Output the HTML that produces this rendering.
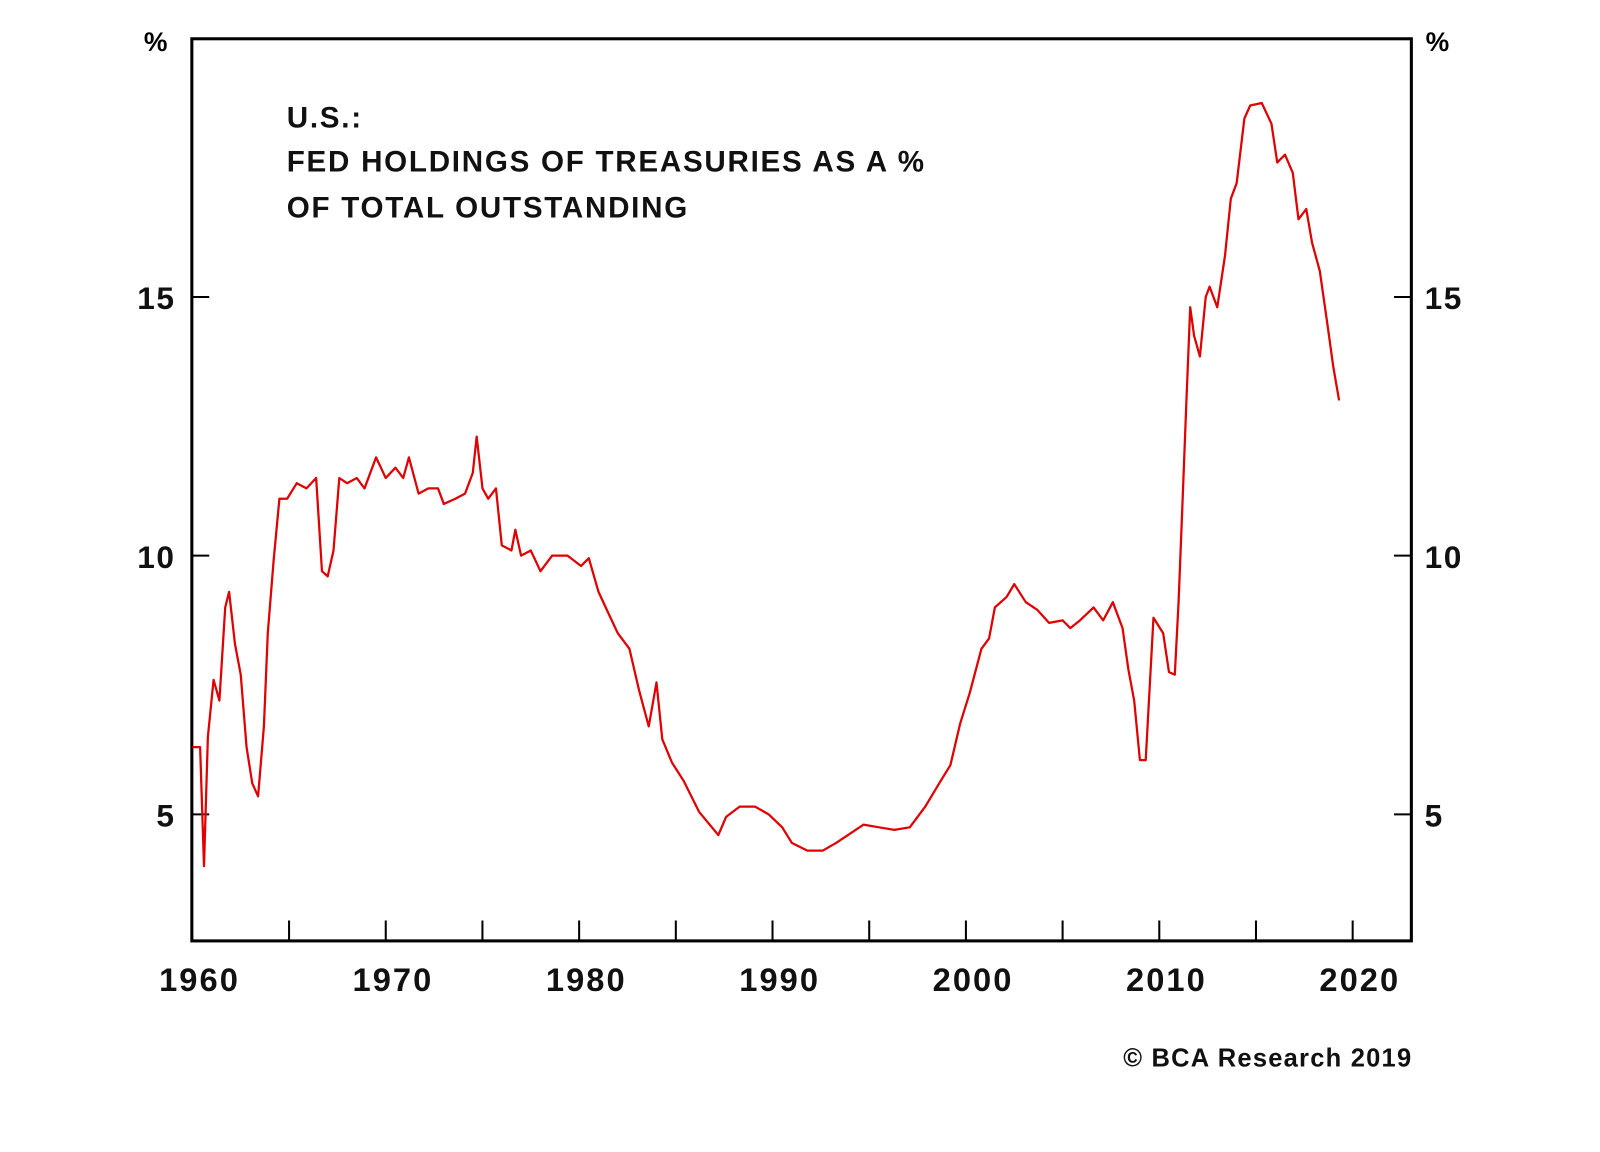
<!DOCTYPE html>
<html><head><meta charset="utf-8"><style>
html,body{margin:0;padding:0;background:#fff;}
svg{display:block;font-family:"Liberation Sans",Arial,sans-serif;font-weight:bold;}
</style></head><body>
<svg id="chart" width="1600" height="1152" viewBox="0 0 1600 1152">
<g transform="scale(1.0205)">
<rect x="188" y="38" width="1195" height="884" fill="none" stroke="#000" stroke-width="3"/>
<g id="axes"></g>
<path id="line" fill="none" stroke="#e00000" stroke-width="2.2" stroke-linejoin="round"/>
<text x="141" y="50" font-size="26">%</text>
<text x="1397" y="50" font-size="26">%</text>
<g font-size="29" fill="#111" letter-spacing="1.7">
<text x="281" y="125">U.S.:</text>
<text x="281" y="168">FED HOLDINGS OF TREASURIES AS A %</text>
<text x="281" y="213">OF TOTAL OUTSTANDING</text>
</g>
<text x="1384" y="1045" font-size="25" letter-spacing="1.2" text-anchor="end" fill="#111">© BCA Research 2019</text>
</g>
</svg>
<script>
const years=[1960.0,1960.4,1960.6,1960.8,1961.1,1961.4,1961.7,1961.9,1962.2,1962.5,1962.8,1963.1,1963.4,1963.7,1963.9,1964.2,1964.5,1964.9,1965.4,1965.9,1966.4,1966.7,1967.0,1967.3,1967.6,1968.0,1968.5,1968.9,1969.5,1970.0,1970.5,1970.9,1971.2,1971.7,1972.2,1972.7,1973.0,1973.6,1974.1,1974.5,1974.7,1975.0,1975.3,1975.7,1976.0,1976.5,1976.7,1977.0,1977.5,1978.0,1978.6,1979.4,1980.1,1980.5,1981.0,1981.5,1982.0,1982.6,1983.1,1983.6,1984.0,1984.3,1984.8,1985.4,1986.2,1987.2,1987.6,1988.3,1989.1,1989.8,1990.5,1991.0,1991.8,1992.6,1993.3,1993.9,1994.7,1995.5,1996.3,1997.1,1997.9,1998.7,1999.2,1999.7,2000.2,2000.8,2001.2,2001.5,2002.1,2002.5,2003.1,2003.7,2004.3,2005.0,2005.4,2005.9,2006.6,2007.1,2007.6,2008.1,2008.4,2008.7,2009.0,2009.3,2009.7,2010.2,2010.5,2010.8,2011.0,2011.2,2011.4,2011.6,2011.8,2012.1,2012.4,2012.6,2013.0,2013.4,2013.7,2014.0,2014.4,2014.7,2015.3,2015.8,2016.1,2016.5,2016.9,2017.2,2017.6,2017.9,2018.3,2018.7,2019.0,2019.3];
const values=[6.3,6.3,4.0,6.5,7.6,7.2,9.0,9.3,8.3,7.7,6.3,5.6,5.35,6.7,8.5,9.9,11.1,11.1,11.4,11.3,11.5,9.7,9.6,10.1,11.5,11.4,11.5,11.3,11.9,11.5,11.7,11.5,11.9,11.2,11.3,11.3,11.0,11.1,11.2,11.6,12.3,11.3,11.1,11.3,10.2,10.1,10.5,10.0,10.1,9.7,10.0,10.0,9.8,9.95,9.3,8.9,8.5,8.2,7.4,6.7,7.55,6.45,6.0,5.65,5.05,4.6,4.95,5.15,5.15,5.0,4.75,4.45,4.3,4.3,4.45,4.6,4.8,4.75,4.7,4.75,5.15,5.65,5.95,6.75,7.35,8.2,8.4,9.0,9.2,9.45,9.1,8.95,8.7,8.75,8.6,8.75,9.0,8.75,9.1,8.6,7.8,7.2,6.05,6.05,8.8,8.5,7.75,7.7,9.1,11.0,12.95,14.8,14.25,13.85,15.0,15.2,14.8,15.8,16.9,17.2,18.45,18.7,18.75,18.35,17.6,17.75,17.4,16.5,16.7,16.05,15.5,14.45,13.65,13.0];
const yTicks=[5,10,15];
const xLabels=[1960,1970,1980,1990,2000,2010,2020];
const xTicks=[1965,1970,1975,1980,1985,1990,1995,2000,2005,2010,2015,2020];
const X=y=>188.5+(y-1960)*18.95;
const Y=v=>798-(v-5)*50.7;
const NS="http://www.w3.org/2000/svg";
const ax=document.getElementById('axes');
function mk(tag,attrs,parent){const e=document.createElementNS(NS,tag);for(const k in attrs)e.setAttribute(k,attrs[k]);parent.appendChild(e);return e;}
yTicks.forEach(v=>{
  const t1=mk('line',{x1:188,x2:205,y1:Y(v),y2:Y(v),stroke:'#000','stroke-width':2},ax);
  
  
  const t2=mk('line',{x1:1366,x2:1383,y1:Y(v),y2:Y(v),stroke:'#000','stroke-width':2},ax);
  
  
  const l1=mk('text',{x:172,y:Y(v)+12,'font-size':31,'letter-spacing':1.5,'text-anchor':'end',fill:'#111'},ax);
  l1.textContent=v;
  
  
  const l2=mk('text',{x:1396,y:Y(v)+12,'font-size':31,'letter-spacing':1.5,fill:'#111'},ax);
  l2.textContent=v;
  
  
});
xTicks.forEach(yr=>{
  const t=mk('line',{x1:X(yr),x2:X(yr),y1:902,y2:922,stroke:'#000','stroke-width':2},ax);
  
  
});
xLabels.forEach(yr=>{
  const l=mk('text',{x:X(yr)+7,y:971,'font-size':32,'letter-spacing':2,'text-anchor':'middle',fill:'#111'},ax);
  l.textContent=yr;
  
  
});
document.getElementById('line').setAttribute('d',years.map((y,i)=>(i?'L':'M')+X(y).toFixed(1)+' '+Y(values[i]).toFixed(1)).join(' '));
</script>
</body></html>
